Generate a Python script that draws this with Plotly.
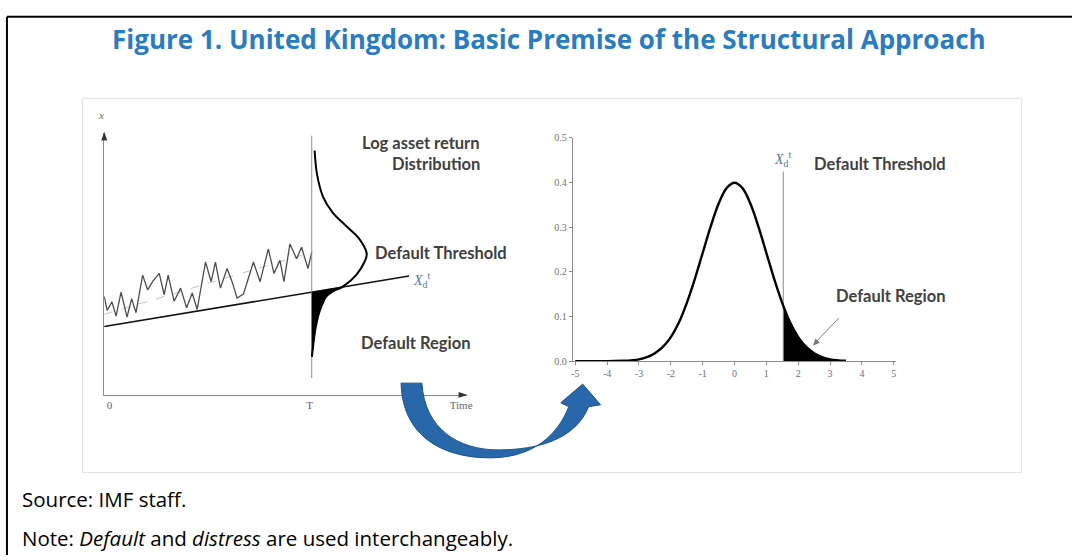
import plotly.graph_objects as go

# ---- left panel: asset path, default threshold, sideways return distribution ----
# time in units of the horizon T, asset level in arbitrary units
T_END = 1.0
walk_t = [0.0, 0.014, 0.037, 0.057, 0.081, 0.110, 0.132, 0.153, 0.185, 0.209,
          0.233, 0.265, 0.289, 0.308, 0.337, 0.368, 0.397, 0.424, 0.448, 0.488,
          0.515, 0.536, 0.560, 0.592, 0.616, 0.640, 0.671, 0.719, 0.751, 0.791,
          0.818, 0.847, 0.866, 0.895, 0.927, 0.951, 0.982, 1.0]
walk_x = [100.3, 86.0, 94.7, 80.3, 104.7, 79.3, 98.0, 83.7, 122.0, 107.0,
          115.3, 123.7, 102.0, 122.0, 95.3, 108.7, 88.7, 103.7, 87.0, 135.3,
          115.3, 135.3, 108.7, 128.7, 115.3, 98.7, 102.7, 135.3, 115.3, 148.7,
          123.7, 137.0, 115.3, 153.7, 138.7, 150.3, 128.7, 145.3]

trend_t = [0.0, 1.0]
trend_x = [82.0, 145.3]

threshold_t = [0.0, 1.469]
threshold_x = [69.7, 121.0]

# density drawn sideways at T: asset level and horizontal width of the curve
dist_level = [248.7, 225.3, 202.0, 185.3, 172.0, 158.7, 143.7, 135.3, 122.0,
              110.3, 105.3, 100.3, 85.3, 68.7, 48.7, 38.7]
dist_width = [0.014, 0.025, 0.054, 0.102, 0.166, 0.230, 0.265, 0.254, 0.214,
              0.150, 0.102, 0.070, 0.038, 0.019, 0.006, 0.001]

# default region (below the threshold at T)
region_level = [104.6, 109.6, 105.3, 100.3, 85.3, 68.7, 48.7, 38.7, 38.7]
region_width = [0.0, 0.143, 0.102, 0.070, 0.038, 0.019, 0.006, 0.001, 0.0]

t_line_level = [17, 264]

# ---- right panel: standard normal density ----
norm_x = [-5, -4.5, -4, -3.5, -3.25, -3, -2.75, -2.5, -2.25, -2, -1.75, -1.5,
          -1.25, -1, -0.75, -0.5, -0.25, 0, 0.25, 0.5, 0.75, 1, 1.25, 1.5,
          1.75, 2, 2.25, 2.5, 2.75, 3, 3.25, 3.5]
norm_y = [0.0, 0.0, 0.0, 0.001, 0.002, 0.004, 0.009, 0.018, 0.032, 0.054,
          0.086, 0.130, 0.183, 0.242, 0.301, 0.352, 0.387, 0.399, 0.387, 0.352,
          0.301, 0.242, 0.183, 0.130, 0.086, 0.054, 0.032, 0.018, 0.009, 0.004,
          0.002, 0.001]

tail_x = [1.53, 1.75, 2.0, 2.25, 2.5, 2.75, 3.0, 3.25, 3.5]
tail_y = [0.124, 0.086, 0.054, 0.032, 0.018, 0.009, 0.004, 0.002, 0.001]

cut_x = 1.53
cut_top = 0.424

x_ticks = [-5, -4, -3, -2, -1, 0, 1, 2, 3, 4, 5]
x_tick_text = ['-5', '-4', '-3', '-2', '-1', '0', '1', '2', '3', '4', '5']
y_ticks = [0.0, 0.1, 0.2, 0.3, 0.4, 0.5]

W, H = 1078, 560
TEXT = '#404040'
LABEL_FONT = dict(family='Lato', size=16.5, color=TEXT, weight='bold')
SERIF = 'Liberation Serif'

fig = go.Figure()

# left panel traces
fig.add_trace(go.Scatter(x=trend_t, y=trend_x, mode='lines',
                         line=dict(color='#c4c4c4', width=1, dash='dash'),
                         xaxis='x', yaxis='y'))
fig.add_trace(go.Scatter(x=walk_t, y=walk_x, mode='lines',
                         line=dict(color='#4d4d4d', width=1.3),
                         xaxis='x', yaxis='y'))
fig.add_trace(go.Scatter(x=threshold_t, y=threshold_x, mode='lines',
                         line=dict(color='#111111', width=1.6),
                         xaxis='x', yaxis='y'))
fig.add_trace(go.Scatter(x=[T_END, T_END], y=t_line_level, mode='lines',
                         line=dict(color='#8c8c8c', width=1),
                         xaxis='x', yaxis='y'))
fig.add_trace(go.Scatter(x=[T_END + w for w in region_width], y=region_level,
                         mode='lines', fill='toself', fillcolor='#000000',
                         line=dict(color='#000000', width=0.5),
                         xaxis='x', yaxis='y'))
fig.add_trace(go.Scatter(x=[T_END + w for w in dist_width], y=dist_level,
                         mode='lines', line=dict(color='#000000', width=2, shape='spline'),
                         xaxis='x', yaxis='y'))

# right panel traces
fig.add_trace(go.Scatter(x=tail_x, y=tail_y, mode='lines', fill='tozeroy',
                         fillcolor='#000000', line=dict(color='#000000', width=1, shape='spline'),
                         xaxis='x2', yaxis='y2'))
fig.add_trace(go.Scatter(x=[cut_x, cut_x], y=[0, cut_top], mode='lines',
                         line=dict(color='#8c8c8c', width=1),
                         xaxis='x2', yaxis='y2'))
fig.add_trace(go.Scatter(x=norm_x, y=norm_y, mode='lines',
                         line=dict(color='#000000', width=2.4, shape='spline'),
                         xaxis='x2', yaxis='y2'))

# empty trace so the pixel overlay axes exist
fig.add_trace(go.Scatter(x=[], y=[], xaxis='x3', yaxis='y3'))

# blue curved arrow, arrowheads and frame, in pixel coordinates of the overlay axes
arrow_path = ('M 402,385 C 404,447 455,462 495,461 C 535,460 560,438 571,409 '
              'L 563,405 L 585,386 L 603,407 L 591,409 '
              'C 578,442 540,453 500,453 C 460,453 426,432 423,385 Z')
shapes = [
    dict(type='rect', xref='x3', yref='y3', x0=81, y0=95, x1=1027, y1=476,
         line=dict(color='#e3e3e3', width=1), layer='below'),
    dict(type='line', xref='x3', yref='y3', x0=5, y0=12, x1=W, y1=12,
         line=dict(color='#000000', width=2)),
    dict(type='line', xref='x3', yref='y3', x0=5, y0=12, x1=5, y1=H,
         line=dict(color='#000000', width=2)),
    # left panel axis arrowheads
    dict(type='path', xref='x3', yref='y3', path='M 469,397 L 460,394 L 460,400 Z',
         fillcolor='#333333', line=dict(width=0)),
    dict(type='path', xref='x3', yref='y3', path='M 103,129 L 100,138 L 106,138 Z',
         fillcolor='#333333', line=dict(width=0)),
    # pointer to the default region, right panel
    dict(type='line', xref='x3', yref='y3', x0=843, y0=319, x1=821, y1=342,
         line=dict(color='#7a7a7a', width=1)),
    dict(type='path', xref='x3', yref='y3', path='M 817,347 L 824,344 L 819.5,339.5 Z',
         fillcolor='#7a7a7a', line=dict(width=0)),
    dict(type='path', xref='x3', yref='y3', path=arrow_path,
         fillcolor='#2868aa', line=dict(color='#1b5389', width=1), layer='above'),
]

def label(text, x, y, font=LABEL_FONT, **kw):
    return dict(text=text, x=x, y=y, xref='x3', yref='y3', showarrow=False,
                font=font, **kw)

xd = '<i>X</i><sub>d</sub><sup>t</sup>'
xd_font = dict(family=SERIF, size=14, color='#4f77a6')
note_font = dict(family='Open Sans', size=20.5, color='#000000')

annotations = [
    dict(text='<b>Figure 1. United Kingdom: Basic Premise of the Structural Approach</b>',
         x=551, y=35, xref='x3', yref='y3', showarrow=False,
         font=dict(family='Open Sans', size=26, color='#2b7bbf')),
    label('Log asset return', 484, 141, xanchor='right'),
    label('Distribution', 484, 162, xanchor='right'),
    label('Default Threshold', 442, 253),
    label('Default Region', 417, 344),
    label('Default Threshold', 885, 162),
    label('Default Region', 896, 296),
    label(xd, 423, 280, font=xd_font),
    label(xd, 786, 157, font=xd_font),
    label('<i>x</i>', 100, 112, font=dict(family=SERIF, size=11, color='#666666')),
    label('Source: IMF staff.', 18, 503, xanchor='left', font=note_font),
    label('Note: <i>Default</i> and <i>distress</i> are used interchangeably.', 18, 543,
          xanchor='left', font=note_font),
]

tick_font = dict(family=SERIF, size=10, color='#707070')

fig.update_layout(
    width=W, height=H,
    margin=dict(l=0, r=0, t=0, b=0),
    paper_bgcolor='white', plot_bgcolor='rgba(0,0,0,0)',
    showlegend=False,
    xaxis=dict(domain=[103 / W, 468 / W], range=[0, 1.746],
               showline=True, linecolor='#8c8c8c', linewidth=1,
               showgrid=False, zeroline=False, ticks='',
               tickvals=[0.025, 0.99, 1.72], ticktext=['0', 'T', 'Time'],
               tickfont=dict(family=SERIF, size=11, color='#666666')),
    yaxis=dict(domain=[1 - 397 / H, 1 - 130 / H], range=[0, 267],
               showline=True, linecolor='#8c8c8c', linewidth=1,
               showgrid=False, zeroline=False, showticklabels=False, ticks=''),
    xaxis2=dict(domain=[575 / W, 901 / W], range=[-5.08, 5.08], anchor='y2',
                showline=True, linecolor='#8c8c8c', linewidth=1,
                showgrid=False, zeroline=False, ticks='outside', ticklen=3,
                tickcolor='#8c8c8c', tickvals=x_ticks, ticktext=x_tick_text,
                tickfont=tick_font),
    yaxis2=dict(domain=[1 - 362.7 / H, 1 - 135 / H], range=[0, 0.5], anchor='x2',
                showline=True, linecolor='#8c8c8c', linewidth=1,
                showgrid=False, zeroline=False, ticks='outside', ticklen=3,
                tickcolor='#8c8c8c', tickvals=y_ticks, tickformat='.1f',
                tickfont=tick_font),
    xaxis3=dict(domain=[0, 1], range=[0, W], visible=False, anchor='y3'),
    yaxis3=dict(domain=[0, 1], range=[H, 0], visible=False, anchor='x3'),
    shapes=shapes,
    annotations=annotations,
)

fig.write_html("out.html", config={'displayModeBar': False},
               post_script="document.body.style.margin='0';document.body.style.overflow='hidden';")
